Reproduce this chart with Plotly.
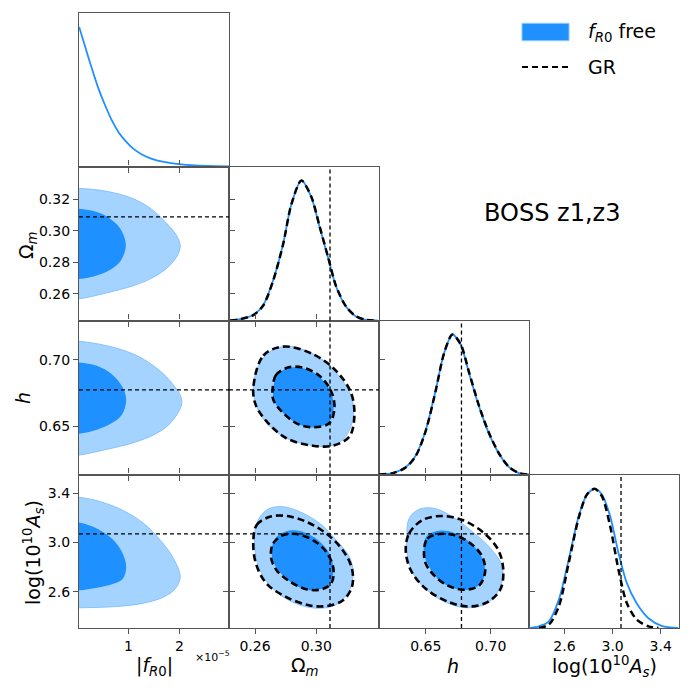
import plotly.graph_objects as go

# ---------------- data ----------------
param_labels = ["|<i>f</i><sub><i>R</i>0</sub>|", "Ω<sub><i>m</i></sub>", "<i>h</i>",
                "log(10<sup>10</sup><i>A</i><sub><i>s</i></sub>)"]
ranges = [[0.03, 2.97], [0.243, 0.341], [0.614, 0.7295], [2.305, 3.552]]
x_ticks = [[1, 2], [0.26, 0.30], [0.65, 0.70], [2.6, 3.0, 3.4]]
x_ticktext = [["1", "2"], ["0.26", "0.30"], ["0.65", "0.70"], ["2.6", "3.0", "3.4"]]
y_ticks = [[], [0.26, 0.28, 0.30, 0.32], [0.65, 0.70], [2.6, 3.0, 3.4]]
y_ticktext = [[], ["0.26", "0.28", "0.30", "0.32"], ["0.65", "0.70"], ["2.6", "3.0", "3.4"]]
fiducial = [None, 0.309, 0.6775, 3.07]

# 1D marginals (normalised to peak = 1)
fr0_x = [0.033, 0.151, 0.282, 0.412, 0.543, 0.674, 0.805, 0.935, 1.099, 1.262, 1.458,
         1.720, 1.981, 2.308, 2.700, 2.975]
fr0_free = [1.0, 0.858, 0.702, 0.558, 0.437, 0.330, 0.246, 0.186, 0.126, 0.086, 0.055,
            0.031, 0.017, 0.007, 0.002, 0.0]

om_x = [0.2438, 0.2503, 0.2589, 0.2654, 0.2719, 0.2784, 0.2838, 0.2903, 0.2968, 0.3022,
        0.3076, 0.3130, 0.3194, 0.3259, 0.3324, 0.3400]
om_free = [0.0, 0.0097, 0.040, 0.111, 0.289, 0.549, 0.833, 1.0, 0.880, 0.667, 0.454, 0.241,
           0.0996, 0.029, 0.005, 0.0]
om_gr = [0.0, 0.0090, 0.038, 0.108, 0.286, 0.547, 0.832, 1.0, 0.884, 0.672, 0.458, 0.244,
         0.101, 0.030, 0.005, 0.0]

h_x = [0.6141, 0.6244, 0.6346, 0.6423, 0.6500, 0.6577, 0.6641, 0.6705, 0.6769, 0.6834,
       0.6911, 0.6987, 0.7064, 0.7141, 0.7218, 0.7295]
h_free = [0.0, 0.0095, 0.053, 0.136, 0.316, 0.603, 0.866, 1.0, 0.926, 0.722, 0.483, 0.292,
          0.148, 0.053, 0.0095, 0.0]
h_gr = [0.0, 0.0090, 0.050, 0.132, 0.312, 0.600, 0.866, 1.0, 0.930, 0.728, 0.488, 0.296,
        0.150, 0.054, 0.0095, 0.0]

as_x_free = [2.304, 2.387, 2.470, 2.553, 2.635, 2.718, 2.787, 2.851, 2.911, 2.980, 3.049,
             3.118, 3.201, 3.298, 3.408, 3.546]
as_free = [0.0, 0.012, 0.048, 0.203, 0.490, 0.801, 0.957, 0.997, 0.957, 0.801, 0.538, 0.323,
           0.175, 0.070, 0.015, 0.0]
as_x_gr = [2.387, 2.470, 2.553, 2.635, 2.718, 2.787, 2.851, 2.911, 2.980, 3.049, 3.118,
           3.201, 3.298, 3.381]
as_gr = [0.0, 0.024, 0.155, 0.466, 0.789, 0.957, 0.997, 0.945, 0.729, 0.418, 0.179, 0.060,
         0.012, 0.0]

# 2D contours (68% and 95%), f_R0 free
fo95_x = [-0.3, 0.033, 0.576, 1.099, 1.458, 1.752, 1.948, 2.014, 1.948, 1.752, 1.458, 1.099, 0.576, 0.033, -0.3]
fo95_y = [0.3275, 0.3271, 0.3252, 0.3204, 0.3137, 0.3047, 0.2967, 0.2904, 0.2837, 0.2763, 0.2700, 0.2652, 0.2606, 0.2568, 0.2565]
fo68_x = [-0.3, 0.033, 0.380, 0.641, 0.837, 0.948, 0.837, 0.641, 0.380, 0.033, -0.3]
fo68_y = [0.3145, 0.3141, 0.3120, 0.3078, 0.3015, 0.2910, 0.2805, 0.2753, 0.2717, 0.2694, 0.2690]

fh95_x = [-0.3, 0.033, 0.576, 1.099, 1.491, 1.818, 2.047, 1.850, 1.556, 1.099, 0.576, 0.033, -0.3]
fh95_y = [0.7145, 0.7139, 0.7106, 0.7043, 0.6955, 0.6841, 0.6690, 0.6538, 0.6450, 0.6379, 0.6329, 0.6286, 0.6280]
fh68_x = [-0.3, 0.033, 0.380, 0.674, 0.870, 0.955, 0.870, 0.674, 0.380, 0.033, -0.3]
fh68_y = [0.6985, 0.6980, 0.6955, 0.6892, 0.6803, 0.6702, 0.6589, 0.6526, 0.6475, 0.6445, 0.6440]

fa95_x = [-0.3, 0.033, 0.445, 0.903, 1.295, 1.622, 1.883, 2.014, 1.916, 1.687, 1.295, 0.772, 0.033, -0.3]
fa95_y = [3.372, 3.367, 3.332, 3.258, 3.155, 3.019, 2.869, 2.719, 2.624, 2.556, 2.507, 2.480, 2.469, 2.468]
fa68_x = [-0.3, 0.033, 0.380, 0.674, 0.870, 0.955, 0.889, 0.706, 0.380, 0.033, -0.3]
fa68_y = [3.170, 3.163, 3.114, 3.032, 2.924, 2.801, 2.706, 2.665, 2.632, 2.611, 2.608]

oh95_x = [0.2589, 0.2622, 0.2697, 0.2805, 0.2935, 0.3065, 0.3173, 0.3238, 0.3233, 0.3173, 0.3086, 0.2957, 0.2805, 0.2676, 0.2606]
oh95_y = [0.6803, 0.6955, 0.7061, 0.7101, 0.7068, 0.6980, 0.6841, 0.6690, 0.6526, 0.6399, 0.6354, 0.6361, 0.6412, 0.6526, 0.6664]
oh68_x = [0.2719, 0.2741, 0.2805, 0.2892, 0.3000, 0.3086, 0.3114, 0.3086, 0.3000, 0.2892, 0.2784, 0.2725]
oh68_y = [0.6778, 0.6879, 0.6935, 0.6942, 0.6892, 0.6778, 0.6652, 0.6538, 0.6495, 0.6513, 0.6601, 0.6690]

oa95_x = [0.2611, 0.2676, 0.2773, 0.2892, 0.3022, 0.3130, 0.3216, 0.3242, 0.3205, 0.3119, 0.3000, 0.2870, 0.2741, 0.2643, 0.2600]
oa95_y = [3.155, 3.264, 3.291, 3.250, 3.155, 3.019, 2.883, 2.747, 2.583, 2.488, 2.466, 2.502, 2.597, 2.747, 2.937]
oa68_x = [0.2708, 0.2741, 0.2816, 0.2913, 0.3011, 0.3086, 0.3112, 0.3086, 0.3011, 0.2913, 0.2805, 0.2730]
oa68_y = [2.937, 3.046, 3.095, 3.087, 3.019, 2.910, 2.774, 2.665, 2.616, 2.624, 2.706, 2.815]

ha95_x = [0.6354, 0.6372, 0.6449, 0.6564, 0.6705, 0.6859, 0.7000, 0.7090, 0.7077, 0.6987, 0.6834, 0.6680, 0.6526, 0.6411, 0.6359]
ha95_y = [3.046, 3.196, 3.269, 3.277, 3.209, 3.087, 2.951, 2.801, 2.651, 2.515, 2.469, 2.502, 2.597, 2.733, 2.896]
ha68_x = [0.6487, 0.6513, 0.6603, 0.6718, 0.6834, 0.6923, 0.6957, 0.6923, 0.6821, 0.6705, 0.6590, 0.6513, 0.6487]
ha68_y = [2.992, 3.060, 3.095, 3.079, 3.005, 2.896, 2.774, 2.665, 2.616, 2.632, 2.706, 2.828, 2.910]

# 2D contours, GR
oh95_gr_x = [0.2589, 0.2654, 0.2784, 0.2978, 0.3130, 0.3227, 0.3249, 0.3216, 0.3108, 0.2978, 0.2805, 0.2676, 0.2604]
oh95_gr_y = [0.6791, 0.7031, 0.7099, 0.7043, 0.6917, 0.6753, 0.6576, 0.6424, 0.6356, 0.6356, 0.6412, 0.6538, 0.6664]
oh68_gr_x = [0.2715, 0.2736, 0.2816, 0.2913, 0.3022, 0.3097, 0.3119, 0.3086, 0.2989, 0.2881, 0.2773, 0.2719]
oh68_gr_y = [0.6778, 0.6884, 0.6942, 0.6942, 0.6879, 0.6765, 0.6639, 0.6526, 0.6495, 0.6518, 0.6614, 0.6702]

oa95_gr_x = [0.2589, 0.2611, 0.2697, 0.2805, 0.2935, 0.3065, 0.3173, 0.3233, 0.3233, 0.3173, 0.3065, 0.2957, 0.2805, 0.2676, 0.2606]
oa95_gr_y = [3.019, 3.141, 3.209, 3.215, 3.168, 3.073, 2.937, 2.788, 2.638, 2.529, 2.483, 2.488, 2.556, 2.665, 2.828]
oa68_gr_x = [0.2704, 0.2719, 0.2784, 0.2870, 0.2978, 0.3065, 0.3112, 0.3097, 0.3022, 0.2924, 0.2816, 0.2741]
oa68_gr_y = [2.883, 2.992, 3.060, 3.068, 3.019, 2.924, 2.788, 2.665, 2.616, 2.624, 2.692, 2.774]

ha95_gr_x = [0.6346, 0.6372, 0.6475, 0.6628, 0.6782, 0.6936, 0.7052, 0.7095, 0.7077, 0.6975, 0.6834, 0.6680, 0.6500, 0.6385]
ha95_gr_y = [2.937, 3.073, 3.182, 3.215, 3.182, 3.087, 2.951, 2.801, 2.624, 2.515, 2.480, 2.515, 2.624, 2.774]
ha68_gr_x = [0.6487, 0.6513, 0.6603, 0.6718, 0.6846, 0.6936, 0.6957, 0.6911, 0.6795, 0.6667, 0.6564, 0.6500]
ha68_gr_y = [2.937, 3.032, 3.068, 3.060, 2.992, 2.883, 2.760, 2.651, 2.616, 2.651, 2.733, 2.828]

# ---------------- styling / layout ----------------
PAGE = 692          # browser window
OFF = 8             # default page margin around the plot div
W = H = PAGE - OFF  # figure size so it fits the window
DARK = "#1E90FF"
LIGHT = "#A5D3FF"
EDGE = "#7DBEFF"
AXC = "#555555"
FONT = "DejaVu Sans"
col_edges = [79, 229, 379, 529, 679]      # window pixels
row_edges = [13, 166.5, 320.5, 474.5, 628]


def px(x):
    return (x - OFF) / W


def py(y):
    return 1 - (y - OFF) / H


fig = go.Figure()
layout = {}
panel_id = {}
k = 0
for i in range(4):
    for j in range(i + 1):
        k += 1
        panel_id[(i, j)] = k
        sx = "" if k == 1 else str(k)
        xdom = [px(col_edges[j]), px(col_edges[j + 1])]
        ydom = [py(row_edges[i + 1]), py(row_edges[i])]
        diag = (i == j)
        layout["xaxis" + sx] = dict(
            domain=xdom, range=ranges[j], anchor="y" + sx,
            tickvals=x_ticks[j], ticktext=x_ticktext[j], showticklabels=(i == 3),
            ticks="outside", ticklen=5, tickwidth=1.2, tickcolor=AXC,
            showline=True, linecolor=AXC, linewidth=1.3,
            mirror=(True if diag else "allticks"),
            showgrid=False, zeroline=False,
            tickfont=dict(family=FONT, size=14, color="black"))
        if diag:
            layout["yaxis" + sx] = dict(
                domain=ydom, range=[0, 1.1], anchor="x" + sx, showticklabels=False,
                ticks="", showline=True, linecolor=AXC, linewidth=1.3, mirror=True,
                showgrid=False, zeroline=False)
        else:
            layout["yaxis" + sx] = dict(
                domain=ydom, range=ranges[i], anchor="x" + sx,
                tickvals=y_ticks[i], ticktext=y_ticktext[i], showticklabels=(j == 0),
                ticks="outside", ticklen=5, tickwidth=1.2, tickcolor=AXC,
                showline=True, linecolor=AXC, linewidth=1.3, mirror="allticks",
                showgrid=False, zeroline=False,
                tickfont=dict(family=FONT, size=14, color="black"))


def axes(i, j):
    kk = panel_id[(i, j)]
    s = "" if kk == 1 else str(kk)
    return "x" + s, "y" + s


def fill(i, j, xs, ys, color, edge, closed=True):
    xa, ya = axes(i, j)
    xx, yy = list(xs), list(ys)
    if closed:
        xx.append(xs[0]); yy.append(ys[0])
    fig.add_trace(go.Scatter(x=xx, y=yy, mode="lines", fill="toself", fillcolor=color,
                             line=dict(color=edge, width=(0.9 if edge else 0), shape="spline", smoothing=1.0),
                             xaxis=xa, yaxis=ya, hoverinfo="skip", showlegend=False))


def dashed(i, j, xs, ys, closed=True):
    xa, ya = axes(i, j)
    xx, yy = list(xs), list(ys)
    if closed:
        xx.append(xs[0]); yy.append(ys[0])
    fig.add_trace(go.Scatter(x=xx, y=yy, mode="lines",
                             line=dict(color="black", width=2.6, dash="7px,4px", shape="spline", smoothing=1.0),
                             xaxis=xa, yaxis=ya, hoverinfo="skip", showlegend=False))


def curve(i, xs, ys, gr=False):
    xa, ya = axes(i, i)
    if gr:
        ln = dict(color="black", width=2.5, dash="7px,4px", shape="spline", smoothing=0.8)
    else:
        ln = dict(color=DARK, width=1.8, shape="spline", smoothing=0.8)
    fig.add_trace(go.Scatter(x=xs, y=ys, mode="lines", line=ln, xaxis=xa, yaxis=ya,
                             hoverinfo="skip", showlegend=False))


# f_R0 column (half contours against the prior edge)
fill(1, 0, fo95_x, fo95_y, LIGHT, EDGE, closed=False)
fill(1, 0, fo68_x, fo68_y, DARK, None, closed=False)
fill(2, 0, fh95_x, fh95_y, LIGHT, EDGE, closed=False)
fill(2, 0, fh68_x, fh68_y, DARK, None, closed=False)
fill(3, 0, fa95_x, fa95_y, LIGHT, EDGE, closed=False)
fill(3, 0, fa68_x, fa68_y, DARK, None, closed=False)

# other 2D panels
fill(2, 1, oh95_x, oh95_y, LIGHT, EDGE)
fill(2, 1, oh68_x, oh68_y, DARK, None)
dashed(2, 1, oh95_gr_x, oh95_gr_y)
dashed(2, 1, oh68_gr_x, oh68_gr_y)

fill(3, 1, oa95_x, oa95_y, LIGHT, EDGE)
fill(3, 1, oa68_x, oa68_y, DARK, None)
dashed(3, 1, oa95_gr_x, oa95_gr_y)
dashed(3, 1, oa68_gr_x, oa68_gr_y)

fill(3, 2, ha95_x, ha95_y, LIGHT, EDGE)
fill(3, 2, ha68_x, ha68_y, DARK, None)
dashed(3, 2, ha95_gr_x, ha95_gr_y)
dashed(3, 2, ha68_gr_x, ha68_gr_y)

# 1D marginals
curve(0, fr0_x, fr0_free)
curve(1, om_x, om_free)
curve(1, om_x, om_gr, gr=True)
curve(2, h_x, h_free)
curve(2, h_x, h_gr, gr=True)
curve(3, as_x_free, as_free)
curve(3, as_x_gr, as_gr, gr=True)

# fiducial (GR best-fit) dashed lines
shapes = []
for (i, j), kk in panel_id.items():
    xa, ya = axes(i, j)
    if j > 0 and fiducial[j] is not None:
        shapes.append(dict(type="line", xref=xa, yref=ya + " domain", x0=fiducial[j], x1=fiducial[j],
                           y0=0, y1=1, line=dict(color="black", width=1.3, dash="4px,3px")))
    if i != j and fiducial[i] is not None:
        shapes.append(dict(type="line", xref=xa + " domain", yref=ya, x0=0, x1=1,
                           y0=fiducial[i], y1=fiducial[i], line=dict(color="black", width=1.3, dash="4px,3px")))

# legend (drawn manually)
shapes.append(dict(type="rect", xref="paper", yref="paper", x0=px(522), x1=px(569),
                   y0=py(40.7), y1=py(23.3), fillcolor=DARK, line=dict(color="#8CC7FF", width=1)))
shapes.append(dict(type="line", xref="paper", yref="paper", x0=px(522), x1=px(569),
                   y0=py(67), y1=py(67), line=dict(color="black", width=2, dash="6px,4px")))

annotations = []


def ann(text, x, y, size, xanchor="center", angle=0):
    annotations.append(dict(text=text, x=px(x), y=py(y), xref="paper", yref="paper",
                            xanchor=xanchor, yanchor="middle", showarrow=False, textangle=angle,
                            font=dict(family=FONT, size=size, color="black")))


ann("<i>f</i><sub><i>R</i>0</sub> free", 586, 32, 19, xanchor="left")
ann("GR", 586, 67, 19, xanchor="left")
ann("BOSS z1,z3", 552, 213, 24)

# axis labels
ann(param_labels[0], 154, 666, 19)
ann(param_labels[1], 305, 666, 19)
ann(param_labels[2], 453, 666, 19)
ann(param_labels[3], 604, 666, 19)
ann("×10<sup>−5</sup>", 212, 656, 11)
ann(param_labels[1], 27, 245, 19, angle=-90)
ann(param_labels[2], 23, 398, 19, angle=-90)
ann(param_labels[3], 33, 553, 19, angle=-90)

fig.update_layout(width=W, height=H, margin=dict(l=0, r=0, t=0, b=0),
                  paper_bgcolor="white", plot_bgcolor="white", showlegend=False,
                  shapes=shapes, annotations=annotations, **layout)
fig.write_html("out.html")
